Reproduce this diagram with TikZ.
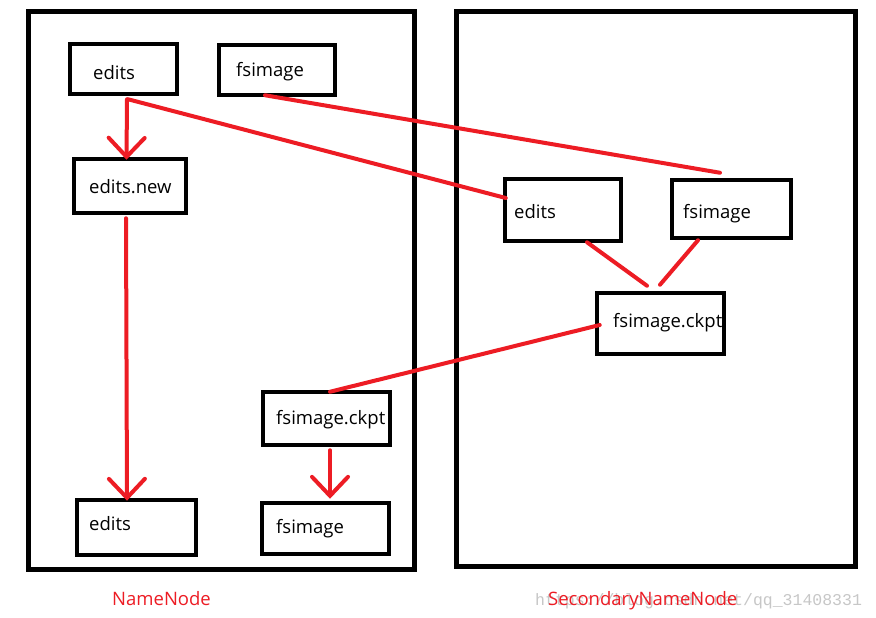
\documentclass[tikz,border=0pt]{standalone}
\usepackage{fontspec}
\setmainfont{Open Sans}
\newfontfamily\wmfont{Liberation Mono}
\usetikzlibrary{arrows.meta}
\definecolor{paintred}{RGB}{237,28,36}
\begin{document}
\begin{tikzpicture}[x=1pt,y=-1pt,
  panel/.style={draw=black,line width=5pt},
  box/.style={draw=black,line width=4.5pt,rectangle,inner sep=0pt},
  lbl/.style={anchor=base west,inner sep=0pt,font=\fontsize{18.5}{20}\selectfont},
  title/.style={anchor=base west,inner sep=0pt,text=paintred,font=\fontsize{18.5}{20}\selectfont},
  link/.style={draw=paintred,line width=4pt,line cap=round},
  arr/.style={link,-{Straight Barb[length=19pt,width=36pt,line cap=round]}}
]
\useasboundingbox (0,0) rectangle (876,618);
\fill[white] (0,0) rectangle (876,618);
% panels
\draw[panel] (28.5,11.5) rectangle (414.5,569.5);
\draw[panel] (456.5,11.5) rectangle (855.5,566.3);
% boxes
\node[box,minimum width=107pt,minimum height=50pt] (e1) at (123.5,69) {};
\node[box,minimum width=116pt,minimum height=50pt] (f1) at (277,70) {};
\node[box,minimum width=112pt,minimum height=54pt] (en) at (130,186) {};
\node[box,minimum width=116pt,minimum height=62pt] (se) at (563,210) {};
\node[box,minimum width=119pt,minimum height=58pt] (sf) at (731.5,209) {};
\node[box,minimum width=127pt,minimum height=61pt] (sc) at (660.5,323.5) {};
\node[box,minimum width=127pt,minimum height=53pt] (nc) at (326.5,418.5) {};
\node[box,minimum width=119pt,minimum height=55pt] (e2) at (136.5,527.5) {};
\node[box,minimum width=127pt,minimum height=51pt] (f2) at (325.5,528.5) {};
% texts
\node[lbl] (e1t) at (93,80) {edits};
\node[lbl] (f1t) at (236,77) {fsimage};
\node[lbl] (ent) at (89,193) {edits.new};
\node[lbl] (set) at (514,218) {edits};
\node[lbl] (sft) at (683,218) {fsimage};
\node[lbl] (sct) at (613,327) {fsimage.ckpt};
\node[lbl] (nct) at (276,424) {fsimage.ckpt};
\node[lbl] (e2t) at (89,530) {edits};
\node[lbl] (f2t) at (276,533) {fsimage};
% watermark and titles
\node[anchor=base west,inner sep=0pt,text=black!22,font=\wmfont\fontsize{16.5}{18}\selectfont] (wm) at (535,605) {https://blog.csdn.net/qq\_31408331};
\node[title] (nnt) at (112,605) {NameNode};
\node[title] (snt) at (548,605) {SecondaryNameNode};
% connectors
\draw[arr] ([xshift=3.5pt,yshift=-3pt]e1.south) -- ([xshift=-3.5pt,yshift=-3pt]en.north);
\draw[link] ([xshift=4.5pt,yshift=-3pt]e1.south) -- ([xshift=3pt,yshift=12pt]se.west);
\draw[link] ([xshift=-12pt,yshift=2pt]f1.south) -- ([xshift=-11.5pt,yshift=5pt]sf.north);
\draw[link] ([xshift=24pt,yshift=1pt]se.south) -- ([xshift=-13.5pt,yshift=5pt]sc.north);
\draw[link] ([xshift=-33.5pt,yshift=0pt]sf.south) -- ([xshift=-0.5pt,yshift=6pt]sc.north);
\draw[link] ([xshift=5pt,yshift=-1.5pt]sc.west) -- ([xshift=3.5pt,yshift=-2pt]nc.north);
\draw[arr] ([xshift=-4pt,yshift=-3pt]en.south) -- ([xshift=-9.5pt,yshift=-3pt]e2.north);
\draw[arr] ([xshift=3.5pt,yshift=-3pt]nc.south) -- ([xshift=4.5pt,yshift=2pt]f2.north);
\end{tikzpicture}
\end{document}
